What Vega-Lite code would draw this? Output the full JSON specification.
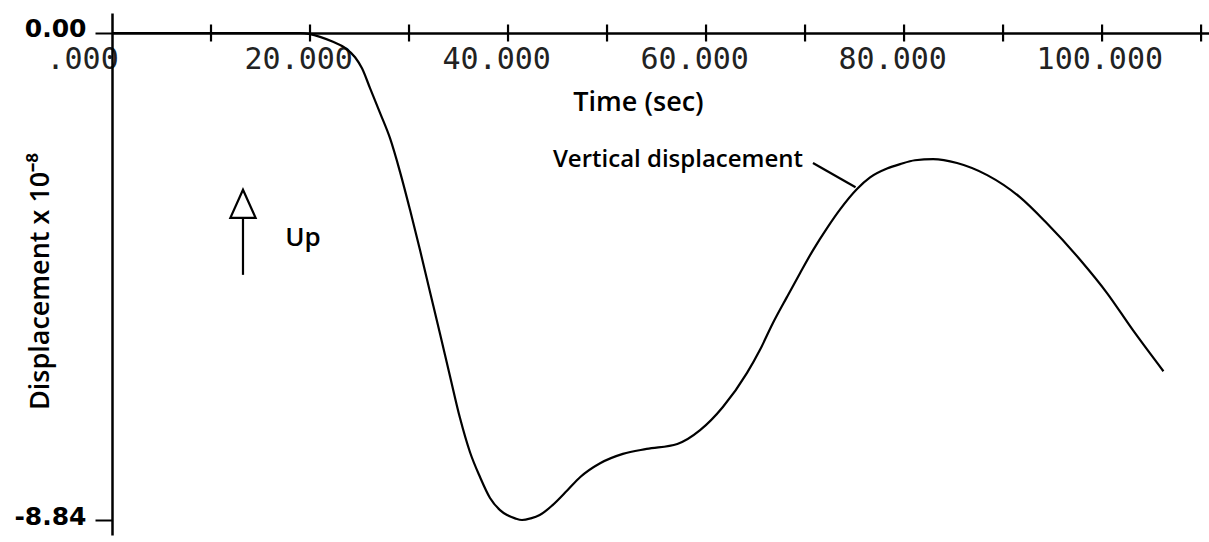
{
  "$schema": "https://vega.github.io/schema/vega-lite/v6.json",
  "width": 1097,
  "height": 522,
  "autosize": {"type": "none"},
  "padding": {"left": 112, "top": 13, "right": 0, "bottom": 7},
  "background": "white",
  "config": {"view": {"stroke": null}, "font": "Open Sans"},
  "datasets": {
    "curve": [
      {"t": 0, "v": 0}, {"t": 10, "v": 0}, {"t": 19, "v": 0}, {"t": 20, "v": -0.02},
      {"t": 21.01, "v": -0.07}, {"t": 22.32, "v": -0.16}, {"t": 23.54, "v": -0.27},
      {"t": 24.55, "v": -0.44}, {"t": 25.25, "v": -0.64}, {"t": 26.06, "v": -1.0},
      {"t": 27.07, "v": -1.45}, {"t": 28.08, "v": -1.91}, {"t": 29.09, "v": -2.52},
      {"t": 30.1, "v": -3.21}, {"t": 31.11, "v": -3.94}, {"t": 32.12, "v": -4.7},
      {"t": 33.13, "v": -5.46}, {"t": 34.14, "v": -6.23}, {"t": 35.15, "v": -6.99},
      {"t": 36.16, "v": -7.61}, {"t": 37.17, "v": -8.06}, {"t": 38.18, "v": -8.44},
      {"t": 39.19, "v": -8.66}, {"t": 39.9, "v": -8.75}, {"t": 40.71, "v": -8.81},
      {"t": 41.41, "v": -8.84}, {"t": 42.3, "v": -8.81}, {"t": 43.2, "v": -8.75},
      {"t": 44.5, "v": -8.57}, {"t": 46.0, "v": -8.3}, {"t": 47.3, "v": -8.06},
      {"t": 49.3, "v": -7.81}, {"t": 51.6, "v": -7.64}, {"t": 54.0, "v": -7.55},
      {"t": 57.1, "v": -7.46}, {"t": 59.4, "v": -7.21}, {"t": 61.7, "v": -6.79},
      {"t": 64.14, "v": -6.17}, {"t": 65.45, "v": -5.75}, {"t": 66.77, "v": -5.26},
      {"t": 68.18, "v": -4.79}, {"t": 69.49, "v": -4.36}, {"t": 70.81, "v": -3.94},
      {"t": 72.22, "v": -3.54}, {"t": 73.54, "v": -3.2}, {"t": 75.25, "v": -2.83},
      {"t": 76.57, "v": -2.62}, {"t": 78.28, "v": -2.46}, {"t": 79.6, "v": -2.38},
      {"t": 81.1, "v": -2.31}, {"t": 82.93, "v": -2.29}, {"t": 85.35, "v": -2.36},
      {"t": 88.4, "v": -2.58}, {"t": 91.7, "v": -2.98}, {"t": 94.4, "v": -3.45},
      {"t": 97.8, "v": -4.12}, {"t": 100.5, "v": -4.72}, {"t": 103.1, "v": -5.39},
      {"t": 106.2, "v": -6.14}
    ],
    "xticks": [
      {"t": 10, "v": 0}, {"t": 20, "v": 0}, {"t": 30, "v": 0}, {"t": 40, "v": 0},
      {"t": 50, "v": 0}, {"t": 60, "v": 0}, {"t": 70, "v": 0}, {"t": 80, "v": 0},
      {"t": 90, "v": 0}, {"t": 100, "v": 0}, {"t": 110, "v": 0}
    ],
    "leader": [{"t": 70.8, "v": -2.36, "t2": 75.1, "v2": -2.8}],
    "caption": [{"t": 69.8, "v": -2.43, "label": "Vertical displacement"}],
    "shaft": [{"t": 13.23, "v": -3.36, "v2": -4.39}],
    "head": [{"t": 13.23, "v": -3.1}],
    "up": [{"t": 17.5, "v": -3.87, "label": "Up"}]
  },
  "encoding": {
    "x": {
      "field": "t", "type": "quantitative",
      "scale": {"domain": [0, 110.8], "nice": false, "zero": false},
      "axis": {
        "orient": "bottom", "offset": -502,
        "values": [0, 20, 40, 60, 80, 100],
        "labelExpr": "datum.value == 0 ? '.000' : format(datum.value, '.3f')",
        "ticks": false, "tickSize": 0,
        "grid": false,
        "domainColor": "black", "domainWidth": 2.5,
        "labelFont": "DejaVu Sans Mono", "labelFontSize": 30, "labelColor": "#222",
        "labelAlign": "left", "labelOffset": -66, "labelBaseline": "alphabetic",
        "labelPadding": 35, "labelOverlap": false, "labelBound": false, "labelFlush": false,
        "title": "Time (sec)", "titleFont": "Open Sans", "titleFontSize": 27,
        "titleFontWeight": 600, "titleColor": "black",
        "titleX": 526, "titleY": 77, "titleBaseline": "alphabetic", "titleAlign": "center"
      }
    },
    "y": {
      "field": "v", "type": "quantitative",
      "scale": {"domain": [-9.112, 0.363], "nice": false, "zero": false},
      "axis": {
        "values": [0, -8.84],
        "labelExpr": "replace(format(datum.value, '.2f'), '\u2212', '-')",
        "grid": false,
        "domainColor": "black", "domainWidth": 2.5,
        "tickColor": "black", "tickWidth": 2, "tickSize": 17,
        "labelFont": "DejaVu Sans", "labelFontWeight": "bold", "labelFontSize": 25,
        "labelColor": "black", "labelPadding": 9, "labelOffset": -4,
        "labelOverlap": false, "labelBound": false, "labelFlush": false,
        "title": "Displacement x 10\u207B\u2078", "titleFont": "Open Sans", "titleFontSize": 27,
        "titleFontWeight": 600, "titleColor": "black",
        "titleX": -72, "titleY": 268, "titleAngle": -90,
        "titleAlign": "center", "titleBaseline": "middle"
      }
    }
  },
  "layer": [
    {
      "data": {"name": "curve"},
      "mark": {"type": "line", "interpolate": "monotone", "color": "black", "strokeWidth": 2.2}
    },
    {
      "data": {"name": "xticks"},
      "mark": {"type": "tick", "orient": "vertical", "color": "black", "size": 17, "thickness": 2.2, "opacity": 1}
    },
    {
      "data": {"name": "leader"},
      "mark": {"type": "rule", "color": "black", "strokeWidth": 2.2},
      "encoding": {"x2": {"field": "t2"}, "y2": {"field": "v2"}}
    },
    {
      "data": {"name": "caption"},
      "mark": {"type": "text", "align": "right", "baseline": "alphabetic", "font": "Open Sans", "fontSize": 24, "fontWeight": 600, "color": "black"},
      "encoding": {"text": {"field": "label"}}
    },
    {
      "data": {"name": "shaft"},
      "mark": {"type": "rule", "color": "black", "strokeWidth": 2.2},
      "encoding": {"y2": {"field": "v2"}}
    },
    {
      "data": {"name": "head"},
      "mark": {"type": "point", "shape": "M-0.9,1L0.9,1L0,-1Z", "size": 784, "filled": false, "stroke": "black", "strokeWidth": 2.2, "opacity": 1}
    },
    {
      "data": {"name": "up"},
      "mark": {"type": "text", "align": "left", "baseline": "alphabetic", "font": "Open Sans", "fontSize": 26, "fontWeight": 600, "color": "black"},
      "encoding": {"text": {"field": "label"}}
    }
  ]
}
